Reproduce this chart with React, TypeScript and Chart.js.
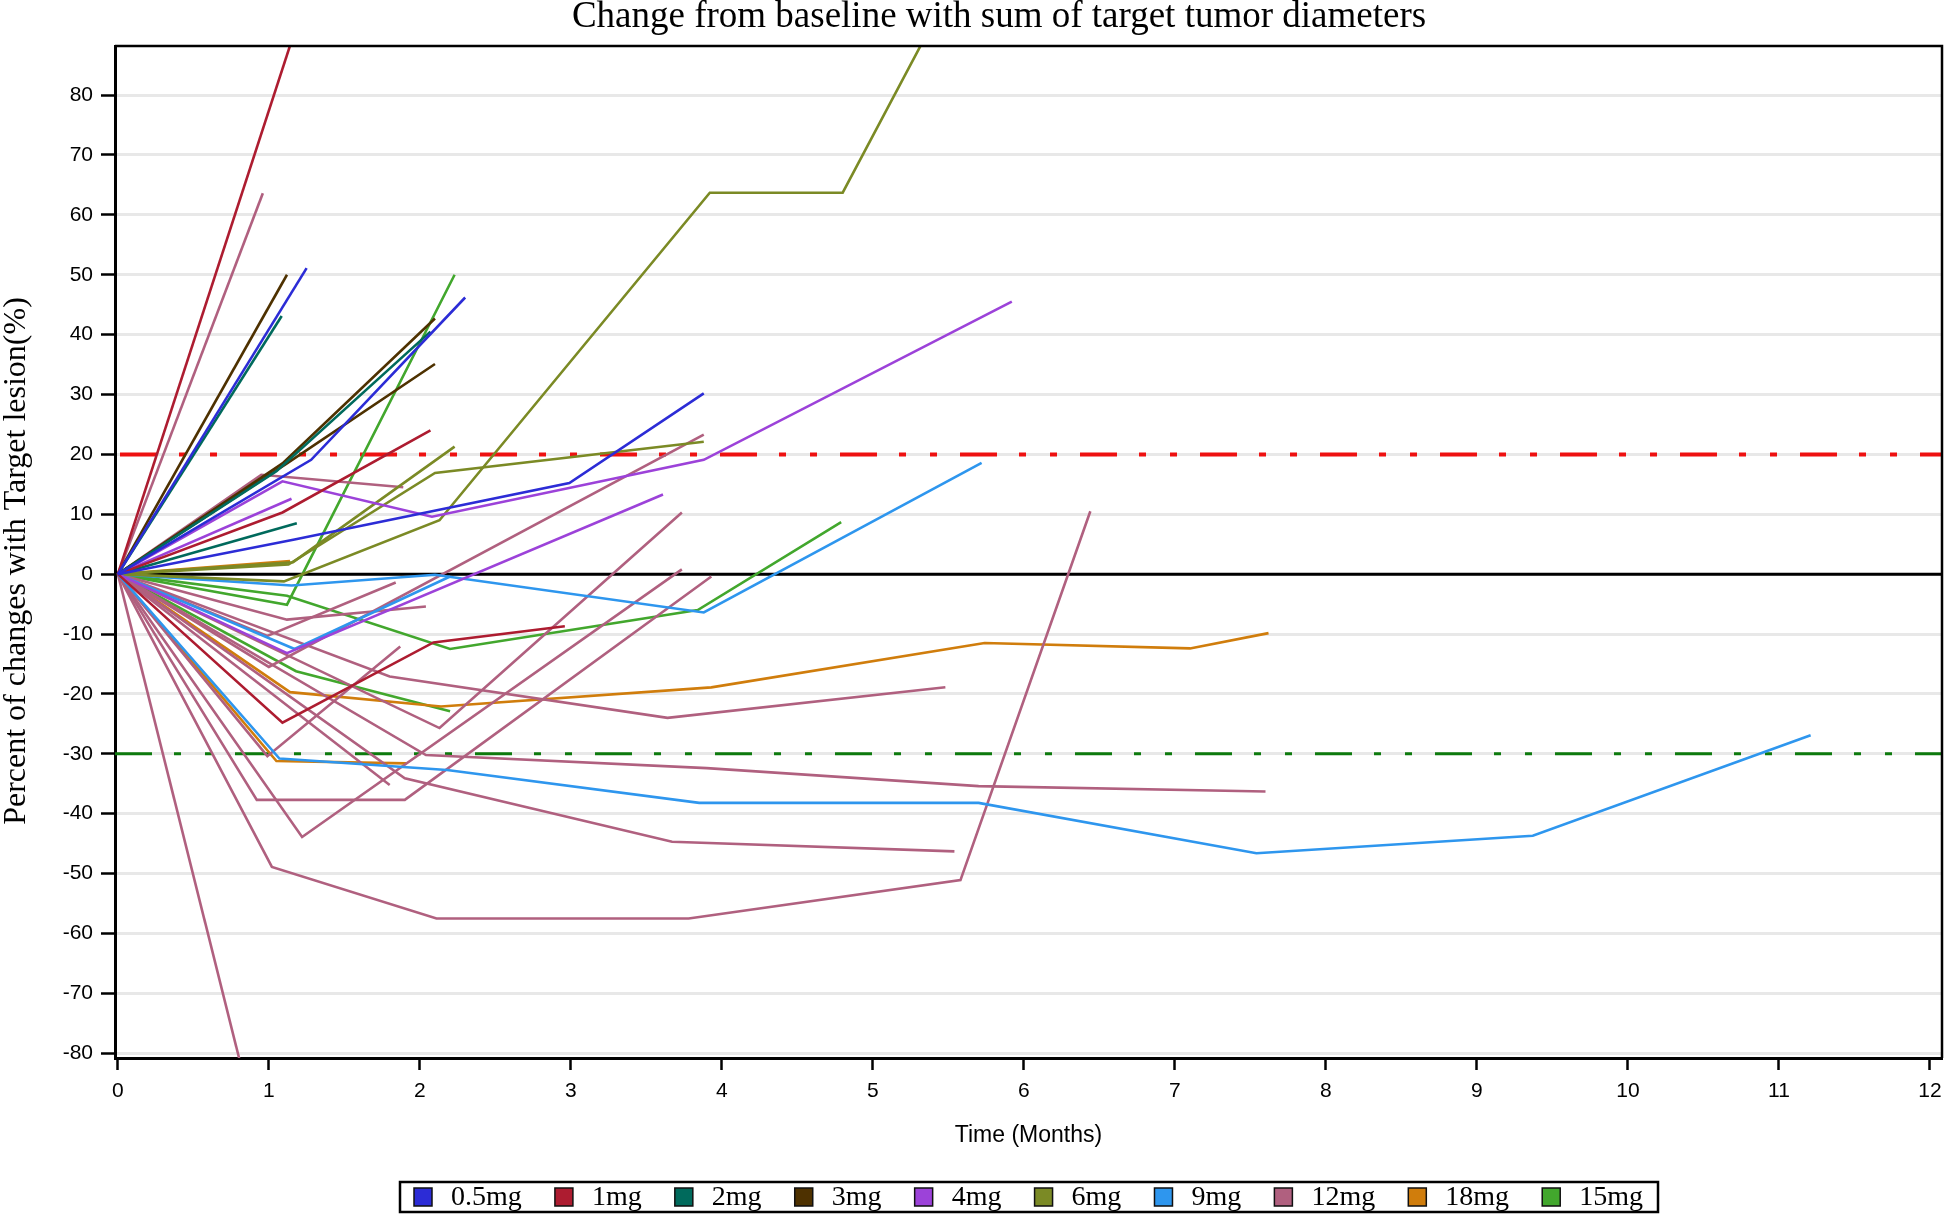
import React, { useEffect, useRef } from 'react';
import { Chart, registerables } from 'chart.js';

Chart.register(...registerables);

// ---------------- data ----------------
const doseLabels = ['0.5mg', '1mg', '2mg', '3mg', '4mg', '6mg', '9mg', '12mg', '18mg', '15mg'];
const doseColors = ['#2c2cd6', '#ad1c30', '#006a5c', '#4e3100', '#9c42d9', '#7b8a25', '#2e96ee', '#b0607f', '#d07d0c', '#42a72d'];

// time since baseline (months) and % change, one inner array per patient
const months05 = [[0, 1.25], [0, 1.28, 2.30], [0, 1.17, 2.99, 3.88]];
const change05 = [[0, 51.1], [0, 19.1, 46.2], [0, 5.8, 15.2, 30.2]];

const months1 = [[0, 1.2], [0, 1.09, 2.07], [0, 1.09, 2.09, 2.96]];
const change1 = [[0, 92.9], [0, 10.3, 24.0], [0, -24.8, -11.4, -8.7]];

const months2 = [[0, 1.085], [0, 1.05, 2.07], [0, 1.185]];
const change2 = [[0, 43.1], [0, 17.2, 40.5], [0, 8.5]];

const months3 = [[0, 1.12], [0, 1.09, 2.10], [0, 1.12, 2.10]];
const change3 = [[0, 50.0], [0, 18.5, 42.7], [0, 18.5, 35.1]];

const months4 = [[0, 1.09, 2.08, 3.88, 5.92], [0, 1.15], [0, 1.12, 3.61]];
const change4 = [[0, 15.5, 9.6, 19.1, 45.5], [0, 12.6], [0, -13.2, 13.3]];

const months6 = [[0, 1.10, 2.13, 3.92, 4.80, 5.5], [0, 1.13, 2.10, 3.88], [0, 1.16, 2.23]];
const change6 = [[0, -1.2, 9.0, 63.7, 63.7, 97], [0, 1.6, 16.9, 22.1], [0, 2.0, 21.3]];

const months9 = [[0, 1.07, 2.18, 3.85, 5.70, 7.54, 9.37, 11.21], [0, 1.15, 2.1, 3.88, 5.72], [0, 1.17, 2.2]];
const change9 = [[0, -30.8, -32.7, -38.2, -38.2, -46.6, -43.7, -26.9], [0, -1.9, -0.1, -6.4, 18.6], [0, -12.5, -0.4]];

const months12 = [
  [0, 0.96],
  [0, 0.95, 1.89],
  [0, 0.9],
  [0, 1.02, 2.11, 3.78, 5.58, 6.44],
  [0, 0.92, 1.90, 3.93],
  [0, 1.22, 3.735],
  [0, 2.13, 3.735],
  [0, 1.80, 3.64, 5.48],
  [0, 2.04, 3.90, 5.70, 7.60],
  [0, 1.90, 3.67, 5.54],
  [0, 1.80],
  [0, 0.99, 1.87],
  [0, 1.12, 2.04],
  [0, 0.99, 1.84],
  [0, 1.0, 3.88],
];
const change12 = [
  [0, 63.6],
  [0, 16.6, 14.5],
  [0, -90.6],
  [0, -48.9, -57.5, -57.5, -51.1, 10.5],
  [0, -37.7, -37.7, -0.4],
  [0, -43.9, 0.8],
  [0, -25.7, 10.3],
  [0, -17.1, -24.0, -18.9],
  [0, -30.2, -32.4, -35.4, -36.3],
  [0, -34.1, -44.7, -46.3],
  [0, -35.2],
  [0, -30.4, -12.1],
  [0, -7.6, -5.4],
  [0, -10.3, -1.4],
  [0, -15.5, 23.3],
];

const months18 = [[0, 1.14, 2.14, 3.93, 5.74, 7.10, 7.62], [0, 1.05, 1.91], [0, 1.14]];
const change18 = [[0, -19.7, -22.1, -18.9, -11.5, -12.4, -9.85], [0, -31.2, -31.6], [0, 2.2]];

const months15 = [[0, 1.12, 2.23], [0, 1.12, 2.20, 3.84, 4.79], [0, 1.18, 2.20]];
const change15 = [[0, -5.1, 50.0], [0, -3.6, -12.5, -6.0, 8.7], [0, -16.2, -22.9]];

const groupMonths = [months05, months1, months2, months3, months4, months6, months9, months12, months18, months15];
const groupChanges = [change05, change1, change2, change3, change4, change6, change9, change12, change18, change15];

const xTickValues = [0, 1, 2, 3, 4, 5, 6, 7, 8, 9, 10, 11, 12];
const yTickValues = [-80, -70, -60, -50, -40, -30, -20, -10, 0, 10, 20, 30, 40, 50, 60, 70, 80];
const xRange = [-0.019, 12.08];
const yRange = [-80.8, 88.2];
const zeroLine = 0;
const progressionLine = 20;
const responseLine = -30;

const titleText = 'Change from baseline with sum of target tumor diameters';
const yTitle = 'Percent of changes with Target lesion(%)';
const xTitle = 'Time (Months)';

// ---------------- chart ----------------
const SERIF = '"Liberation Serif", "Times New Roman", serif';
const SANS = '"Liberation Sans", Arial, sans-serif';

function buildDatasets() {
  const ds: any[] = [];
  groupMonths.forEach((grp, gi) => {
    grp.forEach((mths, pi) => {
      const vals = groupChanges[gi][pi];
      ds.push({
        label: doseLabels[gi],
        data: mths.map((m, i) => ({ x: m, y: vals[i] })),
        borderColor: doseColors[gi],
        backgroundColor: doseColors[gi],
        borderWidth: 2.6,
        pointRadius: 0,
        pointHoverRadius: 0,
        fill: false,
        tension: 0,
      });
    });
  });
  return ds;
}

const decorPlugin = {
  id: 'decor',
  beforeDatasetsDraw(chart: any) {
    const { ctx, chartArea: a, scales } = chart;
    const y = scales.y;
    ctx.save();
    ctx.beginPath();
    ctx.rect(a.left, a.top, a.right - a.left, a.bottom - a.top);
    ctx.clip();
    const pattern = [37, 22, 7, 24, 7, 23];
    // red progression line
    let py = y.getPixelForValue(progressionLine);
    ctx.strokeStyle = '#ee1111';
    ctx.lineWidth = 4;
    ctx.setLineDash(pattern);
    ctx.lineDashOffset = -5;
    ctx.beginPath();
    ctx.moveTo(a.left, py);
    ctx.lineTo(a.right, py);
    ctx.stroke();
    // green response line
    py = y.getPixelForValue(responseLine);
    ctx.strokeStyle = '#0d7a0d';
    ctx.lineWidth = 3;
    ctx.lineDashOffset = 0;
    ctx.beginPath();
    ctx.moveTo(a.left, py);
    ctx.lineTo(a.right, py);
    ctx.stroke();
    // zero line
    py = y.getPixelForValue(zeroLine);
    ctx.setLineDash([]);
    ctx.strokeStyle = '#000';
    ctx.lineWidth = 3;
    ctx.beginPath();
    ctx.moveTo(a.left, py);
    ctx.lineTo(a.right, py);
    ctx.stroke();
    ctx.restore();
  },
  afterDraw(chart: any) {
    const { ctx, chartArea: a } = chart;
    ctx.save();
    // top and right frame
    ctx.strokeStyle = '#000';
    ctx.lineWidth = 2.5;
    ctx.beginPath();
    ctx.moveTo(a.left, a.top);
    ctx.lineTo(a.right, a.top);
    ctx.lineTo(a.right, a.bottom);
    ctx.stroke();

    // title
    ctx.fillStyle = '#000';
    ctx.font = '37px ' + SERIF;
    ctx.textAlign = 'center';
    ctx.textBaseline = 'middle';
    ctx.fillText(titleText, 999, 17);

    // y axis title
    ctx.save();
    ctx.translate(17, 561);
    ctx.rotate(-Math.PI / 2);
    ctx.font = '32px ' + SERIF;
    ctx.textAlign = 'center';
    ctx.textBaseline = 'middle';
    ctx.fillText(yTitle, 0, 0);
    ctx.restore();

    // legend
    const boxL = 400, boxR = 1658, boxT = 1182, boxB = 1212;
    ctx.lineWidth = 2.5;
    ctx.strokeStyle = '#000';
    ctx.strokeRect(boxL, boxT, boxR - boxL, boxB - boxT);
    ctx.font = '28px ' + SERIF;
    ctx.textAlign = 'left';
    const sq = 18, sqGap = 19;
    const widths = doseLabels.map((l) => ctx.measureText(l).width);
    const startX = boxL + 14;
    const endX = boxR - 15;
    const total = widths.reduce((s, w) => s + w + sq + sqGap, 0);
    const gap = (endX - startX - total) / (doseLabels.length - 1);
    let x = startX;
    const cy = (boxT + boxB) / 2;
    doseLabels.forEach((l, i) => {
      ctx.fillStyle = doseColors[i];
      ctx.fillRect(x, cy - sq / 2, sq, sq);
      ctx.strokeStyle = '#111';
      ctx.lineWidth = 1.5;
      ctx.strokeRect(x, cy - sq / 2, sq, sq);
      ctx.fillStyle = '#000';
      ctx.textBaseline = 'middle';
      ctx.fillText(l, x + sq + sqGap, cy + 1);
      x += sq + sqGap + widths[i] + gap;
    });
    ctx.restore();
  },
};

export default function App() {
  const ref = useRef<HTMLCanvasElement | null>(null);
  useEffect(() => {
    if (!ref.current) return;
    const chart = new Chart(ref.current, {
      type: 'line',
      data: { datasets: buildDatasets() },
      plugins: [decorPlugin],
      options: {
        animation: false,
        responsive: false,
        devicePixelRatio: 1,
        events: [],
        layout: { padding: { top: 46, right: 3, bottom: 55, left: 0 } },
        plugins: {
          legend: { display: false },
          title: { display: false },
          tooltip: { enabled: false },
        },
        scales: {
          x: {
            type: 'linear',
            min: xRange[0],
            max: xRange[1],
            afterBuildTicks: (s: any) => {
              s.ticks = xTickValues.map((v) => ({ value: v }));
            },
            afterFit: (s: any) => {
              s.height = 102;
              s.paddingRight = 0;
              s.paddingLeft = 0;
            },
            ticks: {
              color: '#000',
              font: { family: SANS, size: 21 },
              padding: 9,
              maxRotation: 0,
              autoSkip: false,
              callback: (v: any) => String(v),
            },
            grid: {
              drawOnChartArea: false,
              drawTicks: true,
              tickLength: 12,
              tickColor: '#000',
              tickWidth: 2.5,
            },
            border: { display: true, color: '#000', width: 3 },
            title: {
              display: true,
              text: xTitle,
              color: '#000',
              font: { family: SANS, size: 23, lineHeight: 1 },
              padding: { top: 0, bottom: 12.5 },
            },
          },
          y: {
            type: 'linear',
            min: yRange[0],
            max: yRange[1],
            afterBuildTicks: (s: any) => {
              s.ticks = yTickValues.map((v) => ({ value: v }));
            },
            afterFit: (s: any) => {
              s.width = 115;
              s.paddingTop = 0;
              s.paddingBottom = 0;
            },
            ticks: {
              color: '#000',
              font: { family: SANS, size: 21 },
              padding: 8,
              autoSkip: false,
              callback: (v: any) => String(v),
            },
            grid: {
              color: '#e8e8e8',
              lineWidth: 3,
              drawTicks: true,
              tickLength: 14,
              tickColor: '#000',
              tickWidth: 2.5,
            },
            border: { display: true, color: '#000', width: 3 },
            title: { display: false },
          },
        },
      } as any,
    });
    return () => chart.destroy();
  }, []);
  return (
    <div style={{ position: 'absolute', left: 0, top: 0, width: 1945, height: 1215, background: '#fff' }}>
      <canvas ref={ref} width={1945} height={1215} style={{ display: 'block' }} />
    </div>
  );
}
